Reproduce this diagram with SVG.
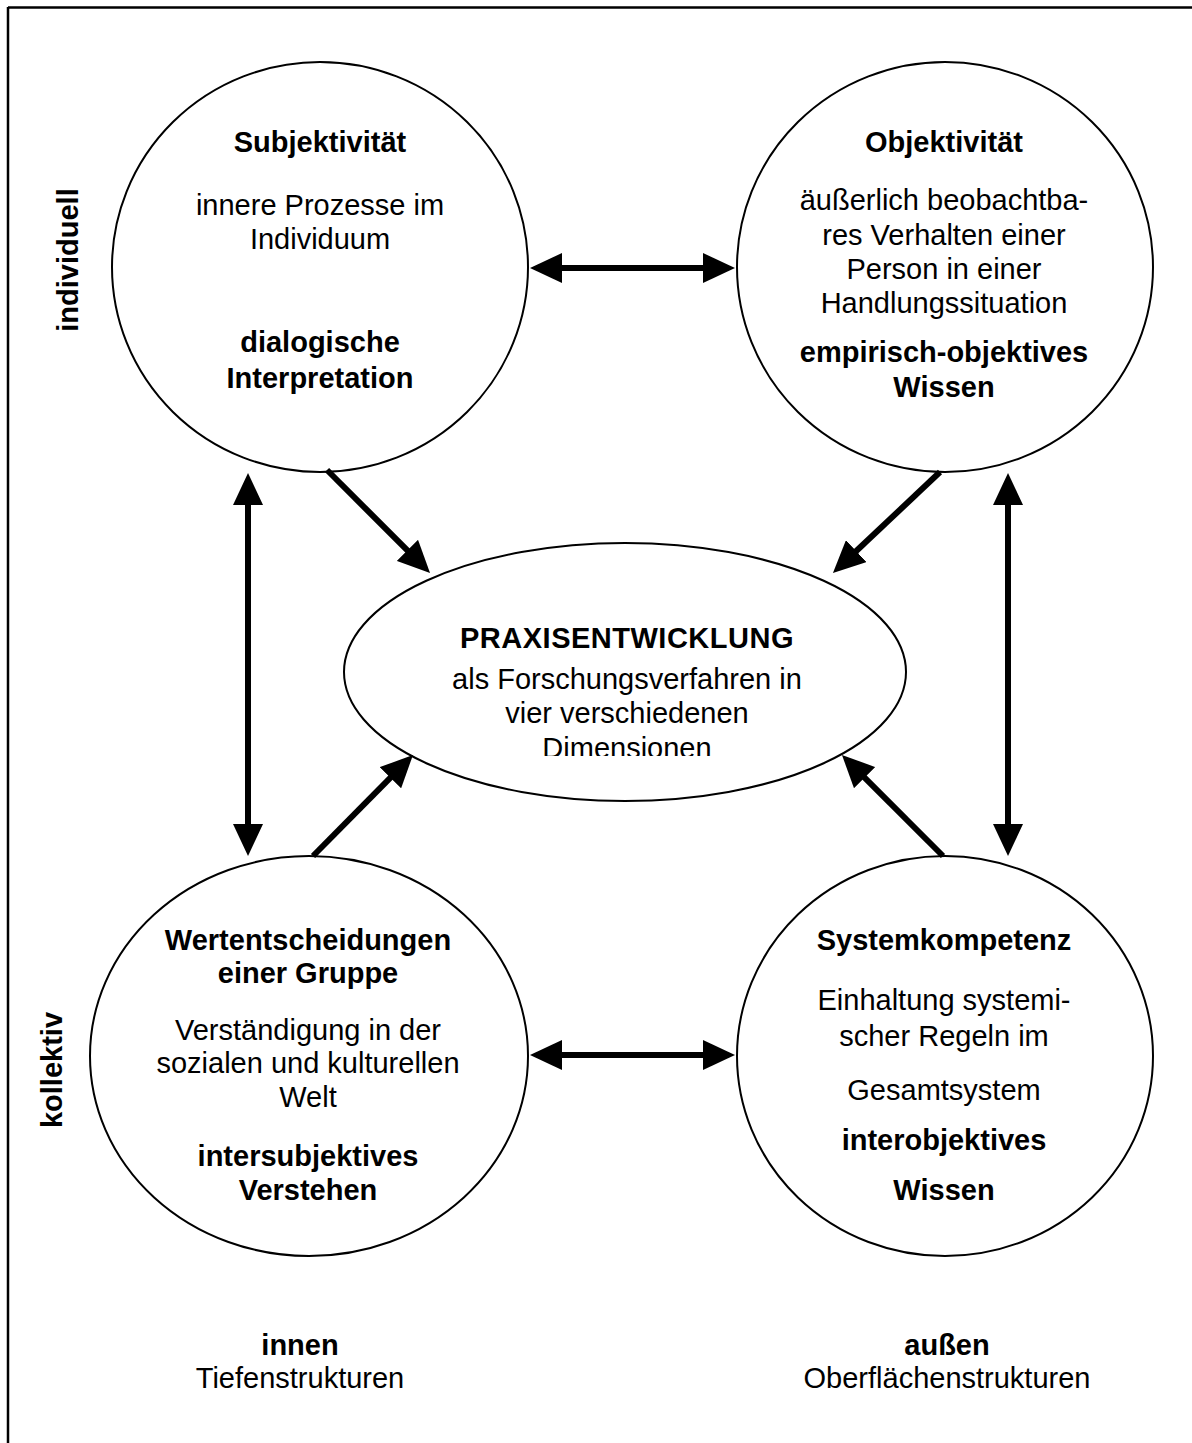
<svg xmlns="http://www.w3.org/2000/svg" width="1192" height="1443" viewBox="0 0 1192 1443">
<style>
text{font-family:"Liberation Sans",Arial,sans-serif;font-size:29px;fill:#000;text-anchor:middle}
.b{font-weight:bold}
.node{fill:#fff;stroke:#000;stroke-width:2}
.con line{stroke:#000;stroke-width:6}
</style>
<defs>
<marker id="ah" viewBox="0 0 32 30" refX="12" refY="15" markerWidth="32" markerHeight="30" markerUnits="userSpaceOnUse" orient="auto-start-reverse">
<path d="M0,0 L32,15 L0,30 z" fill="#000"/>
</marker>
<clipPath id="clipDim"><rect x="300" y="500" width="650" height="256"/></clipPath>
</defs>
<rect width="1192" height="1443" fill="#fff"/>
<g id="frame" stroke="#000" stroke-width="2.5" fill="none">
<line x1="8" y1="7.5" x2="1192" y2="7.5"/>
<line x1="8" y1="7" x2="8" y2="1443"/>
</g>
<g id="axis-labels">
<text class="b" transform="translate(78,260) rotate(-90)">individuell</text>
<text transform="translate(62,1070) rotate(-90)" style="font-weight:600">kollektiv</text>
</g>
<g id="node-subjektivitaet">
<ellipse class="node" cx="320" cy="267" rx="208" ry="205"/>
<text class="b" x="320" y="152">Subjektivität</text>
<text x="320" y="215">innere Prozesse im</text>
<text x="320" y="249">Individuum</text>
<text class="b" x="320" y="352">dialogische</text>
<text class="b" x="320" y="388">Interpretation</text>
</g>
<g id="node-objektivitaet">
<ellipse class="node" cx="945" cy="267" rx="208" ry="205"/>
<text class="b" x="944" y="152">Objektivität</text>
<text x="944" y="210">äußerlich beobachtba-</text>
<text x="944" y="245">res Verhalten einer</text>
<text x="944" y="279">Person in einer</text>
<text x="944" y="313">Handlungssituation</text>
<text class="b" x="944" y="362">empirisch-objektives</text>
<text class="b" x="944" y="397">Wissen</text>
</g>
<g id="node-praxisentwicklung">
<ellipse class="node" cx="625" cy="672" rx="281" ry="129"/>
<text class="b" x="627" y="648" style="letter-spacing:0.5px">PRAXISENTWICKLUNG</text>
<text x="627" y="689">als Forschungsverfahren in</text>
<text x="627" y="723">vier verschiedenen</text>
<text x="627" y="758" clip-path="url(#clipDim)">Dimensionen</text>
</g>
<g id="node-wertentscheidungen">
<ellipse class="node" cx="309" cy="1056" rx="219" ry="200"/>
<text class="b" x="308" y="950">Wertentscheidungen</text>
<text class="b" x="308" y="983">einer Gruppe</text>
<text x="308" y="1040">Verständigung in der</text>
<text x="308" y="1073">sozialen und kulturellen</text>
<text x="308" y="1107">Welt</text>
<text class="b" x="308" y="1166">intersubjektives</text>
<text class="b" x="308" y="1200">Verstehen</text>
</g>
<g id="node-systemkompetenz">
<ellipse class="node" cx="945" cy="1056" rx="208" ry="200"/>
<text class="b" x="944" y="950">Systemkompetenz</text>
<text x="944" y="1010">Einhaltung systemi-</text>
<text x="944" y="1046">scher Regeln im</text>
<text x="944" y="1100">Gesamtsystem</text>
<text class="b" x="944" y="1150">interobjektives</text>
<text class="b" x="944" y="1200">Wissen</text>
</g>
<g id="bottom-labels">
<text class="b" x="300" y="1355">innen</text>
<text x="300" y="1388">Tiefenstrukturen</text>
<text class="b" x="947" y="1355">außen</text>
<text x="947" y="1388">Oberflächenstrukturen</text>
</g>
<g id="connectors" class="con">
<line x1="550" y1="268" x2="715" y2="268" marker-start="url(#ah)" marker-end="url(#ah)"/>
<line x1="550" y1="1055" x2="715" y2="1055" marker-start="url(#ah)" marker-end="url(#ah)"/>
<line x1="248" y1="493" x2="248" y2="836" marker-start="url(#ah)" marker-end="url(#ah)"/>
<line x1="1008" y1="493" x2="1008" y2="836" marker-start="url(#ah)" marker-end="url(#ah)"/>
<line x1="327" y1="470" x2="415.9" y2="558.9" marker-end="url(#ah)"/>
<line x1="940" y1="472" x2="847.5" y2="559.3" marker-end="url(#ah)"/>
<line x1="313" y1="856" x2="398.9" y2="769.2" marker-end="url(#ah)"/>
<line x1="943" y1="856" x2="856.1" y2="769.1" marker-end="url(#ah)"/>
</g>
</svg>
